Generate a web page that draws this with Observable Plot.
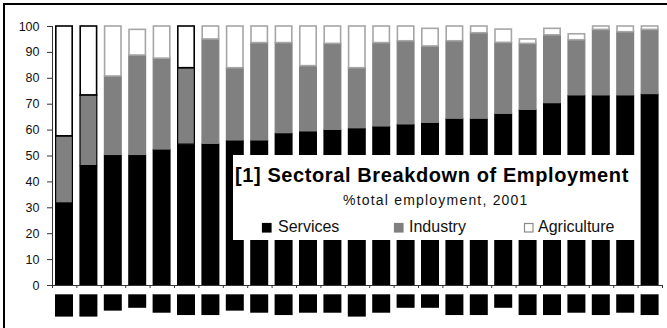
<!DOCTYPE html>
<html><head><meta charset="utf-8">
<script src="https://cdn.jsdelivr.net/npm/d3@7"></script>
<script src="https://cdn.jsdelivr.net/npm/@observablehq/plot@0.6"></script>
<style>
body{margin:0;background:#fff;}
#wrap{position:relative;width:667px;height:328px;overflow:hidden;font-family:"Liberation Sans",Arial,sans-serif;}
#wrap svg{display:block;}
#border{position:absolute;left:3px;top:3px;width:700px;height:400px;border-left:2px solid #000;border-top:2px solid #000;pointer-events:none;}
</style></head>
<body><div id="wrap"><div id="border"></div></div>
<script>
// Countries (flags redacted in the original, shown as black boxes)
const countries = ["C01","C02","C03","C04","C05","C06","C07","C08","C09","C10","C11","C12","C13",
  "C14","C15","C16","C17","C18","C19","C20","C21","C22","C23","C24","C25"];
// % of total employment, 2001
const services    = [31.7,46.1,50.4,50.4,52.5,54.4,54.7,56.0,56.0,58.8,59.5,60.1,60.7,61.4,62.2,62.8,64.4,64.4,66.3,67.8,70.4,73.4,73.4,73.4,73.9];
const industry    = [25.9,27.3,30.3,38.4,35.1,29.5,40.3,27.9,37.6,34.8,25.2,33.2,23.2,32.2,32.1,29.5,29.9,33.0,27.4,25.5,26.2,21.3,25.3,24.4,24.8];
const agriculture = [42.4,26.6,19.3, 9.9,12.4,16.1, 5.0,16.1, 6.4, 6.4,15.3, 6.7,16.1, 6.4, 5.7, 6.8, 5.7, 2.6, 5.1, 1.7, 2.5, 2.3, 1.3, 2.2, 1.3];
// highlighted countries (bold outline)
const highlighted = ["C01","C02","C06"];
// depth of the flag placeholder boxes below the axis (in y units)
const flagDepth = [12.2,12.2,9.9,8.8,10.7,11.6,11.6,9.9,10.7,11.6,10.7,10.7,12.2,10.7,8.8,8.8,11.6,11.6,8.8,11.6,11.6,10.7,11.6,10.7,11.6];
const yTicks = [0,10,20,30,40,50,60,70,80,90,100];
const sectors = ["Services","Industry","Agriculture"];
const title = "[1] Sectoral Breakdown of Employment";
const subtitle = "%total employment, 2001";

const rows = [];
countries.forEach((c, i) => {
  let acc = 0;
  [services[i], industry[i], agriculture[i]].forEach((v, k) => {
    rows.push({i, country: c, sector: sectors[k], y1: acc, y2: acc + v, hl: highlighted.includes(c)});
    acc += v;
  });
});
const flags = countries.map((c, i) => ({i, country: c, depth: flagDepth[i]}));
const seg = s => rows.filter(d => d.sector === s);

const chart = Plot.plot({
  width: 667, height: 328,
  marginLeft: 52, marginRight: 5, marginTop: 26, marginBottom: 43,
  style: {fontFamily: '"Liberation Sans", Arial, sans-serif', fontSize: "12px", color: "#000", background: "transparent"},
  x: {domain: [0, countries.length], axis: null},
  y: {domain: [0, 100], axis: null},
  marks: [
    Plot.rect(seg("Services"), {x1: "i", x2: d => d.i + 1, y1: "y1", y2: "y2", fill: "#000", insetLeft: 3, insetRight: 3.4}),
    Plot.rect(seg("Industry"), {x1: "i", x2: d => d.i + 1, y1: "y1", y2: "y2", fill: "#808080", stroke: d => d.hl ? "#000" : "#808080", strokeWidth: 1.2, insetLeft: 3.6, insetRight: 4}),
    Plot.rect(seg("Agriculture"), {x1: "i", x2: d => d.i + 1, y1: "y1", y2: "y2", fill: "#fff", stroke: d => d.hl ? "#000" : "#a6a6a6", strokeWidth: 1.6, insetLeft: 3.8, insetRight: 4.2}),
    Plot.rect(flags, {x1: "i", x2: d => d.i + 1, y1: 0, y2: d => -d.depth, insetTop: 9.3, fill: "#000", insetLeft: 3, insetRight: 3.4}),
    Plot.ruleX([0], {stroke: "#333"}),
    Plot.ruleY([0], {stroke: "#333"}),
    Plot.axisX(d3.range(countries.length + 1), {tickSize: 3, tickFormat: () => "", stroke: "#333", label: null}),
    Plot.axisY(yTicks, {tickSize: 5, tickPadding: 8, fontSize: 12.5, fill: "#111", stroke: "#333", label: null, letterSpacing: 0.4})
  ]
});
document.getElementById("wrap").prepend(chart);

// Title / legend box overlaid on the plot area
const svg = d3.select(chart);
const g = svg.append("g").attr("font-family", '"Liberation Sans", Arial, sans-serif').attr("text-anchor", "start");
g.append("rect").attr("x", 233).attr("y", 155).attr("width", 407).attr("height", 85).attr("fill", "#fff");
g.append("text").attr("x", 235).attr("y", 182).attr("font-size", 20).attr("font-weight", "bold")
  .attr("letter-spacing", 0.6).attr("fill", "#000").text(title);
g.append("text").attr("x", 343).attr("y", 205).attr("font-size", 14)
  .attr("letter-spacing", 1.2).attr("fill", "#111").text(subtitle);
const legendItems = [
  {label: sectors[0], fill: "#000", stroke: "#000", sx: 262, tx: 278},
  {label: sectors[1], fill: "#808080", stroke: "#808080", sx: 394, tx: 409},
  {label: sectors[2], fill: "#fff", stroke: "#8c8c8c", sx: 524, tx: 538}
];
legendItems.forEach(it => {
  g.append("rect").attr("x", it.sx + 0.5).attr("y", 223.5).attr("width", 8.5).attr("height", 8.5)
    .attr("fill", it.fill).attr("stroke", it.stroke).attr("stroke-width", 1.2);
  g.append("text").attr("x", it.tx).attr("y", 232).attr("font-size", 16).attr("fill", "#111").text(it.label);
});
</script>
</body></html>
